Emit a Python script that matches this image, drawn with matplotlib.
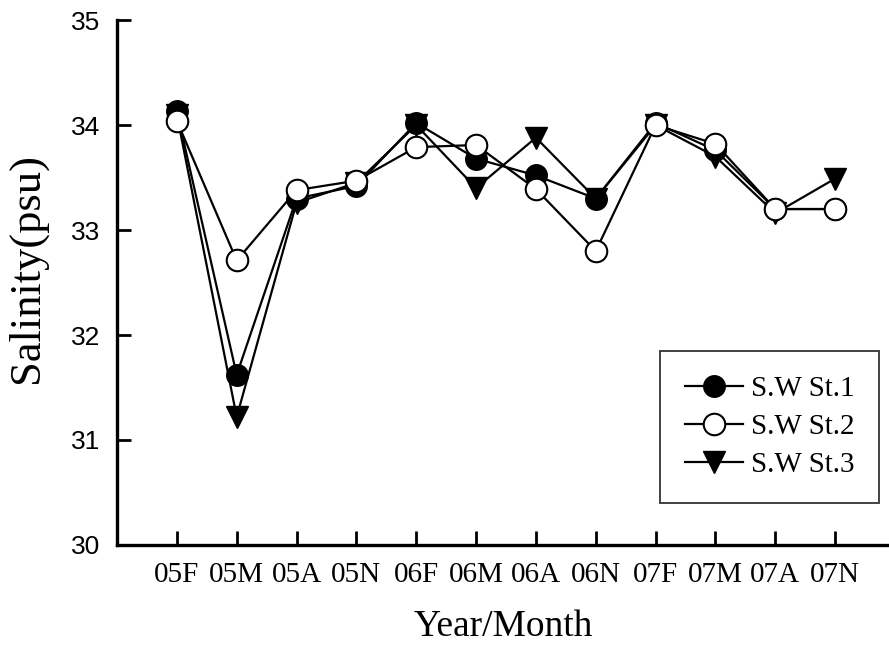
import matplotlib
matplotlib.use("Agg")
import matplotlib.pyplot as plt

categories = ["05F", "05M", "05A", "05N", "06F", "06M", "06A", "06N", "07F", "07M", "07A", "07N"]
st1 = [34.13, 31.62, 33.30, 33.42, 34.02, 33.68, 33.52, 33.30, 34.02, 33.76, 33.20, 33.20]
st2 = [34.04, 32.71, 33.38, 33.47, 33.79, 33.81, 33.39, 32.80, 34.00, 33.82, 33.20, 33.20]
st3 = [34.10, 31.22, 33.26, 33.45, 34.00, 33.40, 33.88, 33.30, 34.00, 33.70, 33.16, 33.49]
labels = ["S.W St.1", "S.W St.2", "S.W St.3"]
yticks = [30, 31, 32, 33, 34, 35]

serif = ["Liberation Serif", "DejaVu Serif"]

fig = plt.figure(figsize=(8.89, 6.48), dpi=100)
ax = fig.add_axes([0.1316, 0.159, 0.8684, 0.810])
x = list(range(len(categories)))

ax.plot(x, st3, color="black", lw=1.6, marker="v", ms=16, mfc="black", mec="black", label=labels[2], zorder=3)
ax.plot(x, st1, color="black", lw=1.6, marker="o", ms=15.5, mfc="black", mec="black", label=labels[0], zorder=4)
ax.plot(x, st2, color="black", lw=1.6, marker="o", ms=15.5, mfc="white", mec="black", mew=1.5, label=labels[1], zorder=5)

ax.set_xlim(-1, 11.9)
ax.set_ylim(30, 35)
ax.set_xticks(x)
ax.set_xticklabels(categories, fontfamily=serif, fontsize=21)
ax.set_yticks(yticks)
ax.set_yticklabels([str(v) for v in yticks], fontfamily=["Liberation Sans", "DejaVu Sans"], fontsize=19)
ax.tick_params(axis="both", direction="in", length=10, width=2, colors="black")
ax.tick_params(axis="x", pad=12)
ax.tick_params(axis="y", pad=12)
for s in ["top", "right"]:
    ax.spines[s].set_visible(False)
for s in ["left", "bottom"]:
    ax.spines[s].set_linewidth(2.4)

ax.set_ylabel("Salinity(psu)", fontfamily=serif, fontsize=32)
ax.yaxis.set_label_coords(-0.0907, 0.5276)
ax.set_xlabel("Year/Month", fontfamily=serif, fontsize=27, labelpad=16)

handles, lbls = ax.get_legend_handles_labels()
order = [1, 2, 0]
leg = ax.legend([handles[i] for i in order], [lbls[i] for i in order],
                loc="lower right", bbox_to_anchor=(879/889, 1 - 503/648),
                bbox_transform=fig.transFigure, fancybox=False, frameon=True,
                edgecolor="black", prop={"family": serif, "size": 21},
                handlelength=2.0, borderpad=0.85, labelspacing=0.4, handletextpad=0.25,
                borderaxespad=0, markerscale=1.0)
leg.get_frame().set_linewidth(1.3)

fig.savefig("out.png", dpi=100)
